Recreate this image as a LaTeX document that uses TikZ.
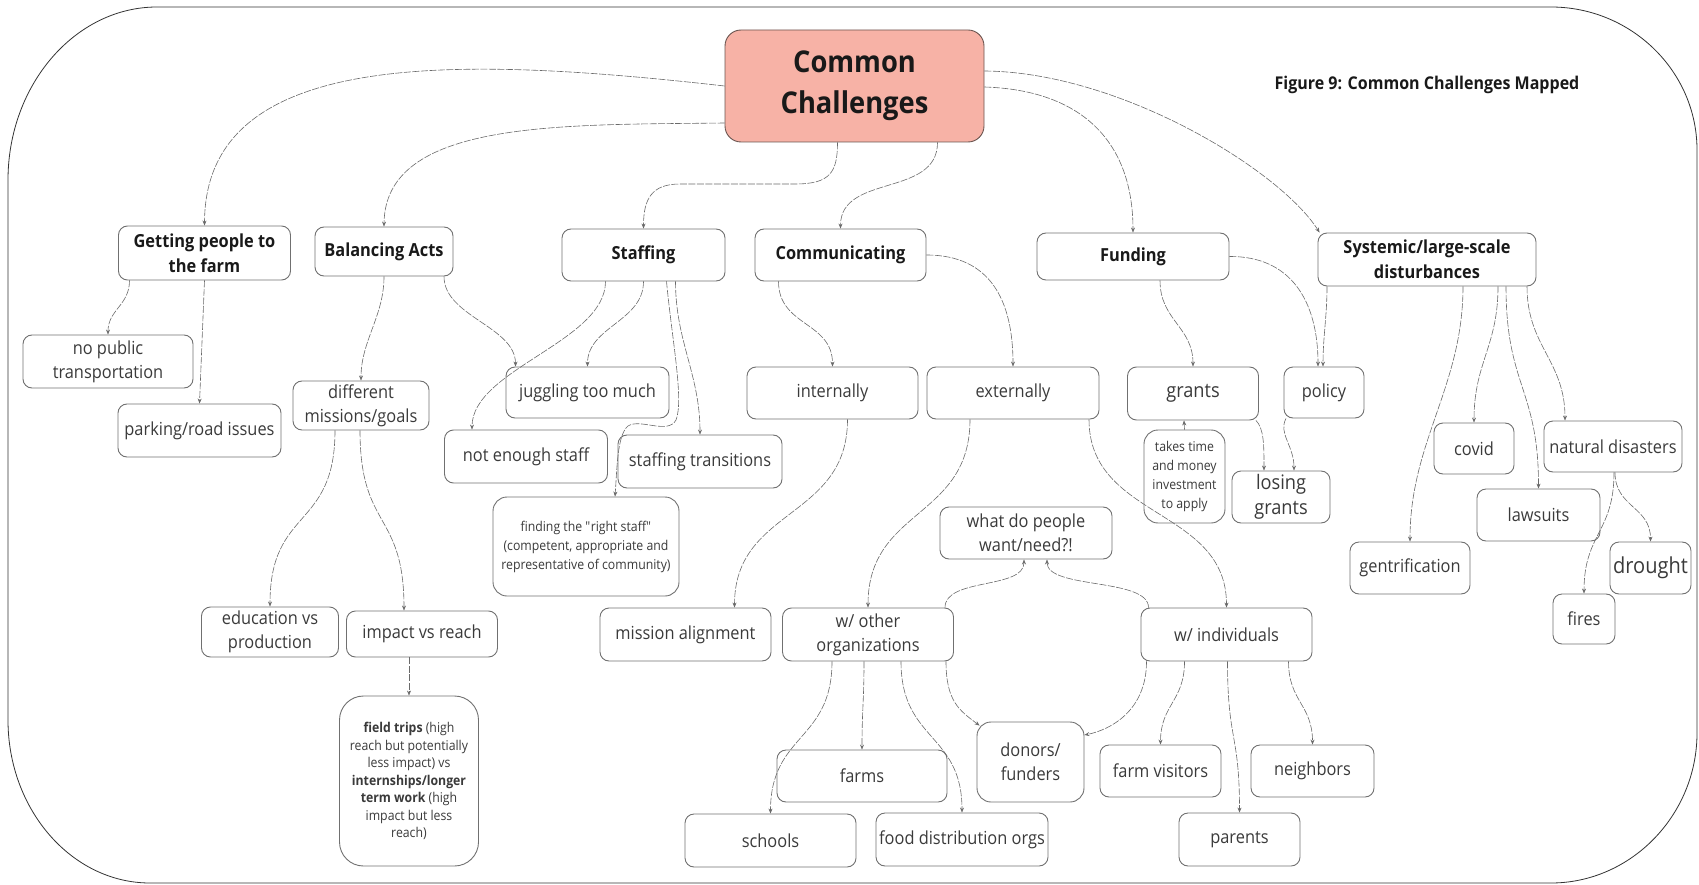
\documentclass[tikz,border=0pt]{standalone}
\usepackage{fontspec}
\setmainfont{Open Sans}[FakeStretch=0.91]
\usetikzlibrary{arrows.meta}
\definecolor{salmon}{HTML}{F7B2A6}
\definecolor{ccedge}{HTML}{6B5550}
\definecolor{edge}{HTML}{707070}
\definecolor{ink}{HTML}{3A3A3A}
\definecolor{linkc}{HTML}{6A6A6A}
\newcommand\fsz[2]{\fontsize{#1}{#2}\selectfont}

\begin{document}
\begin{tikzpicture}[x=1pt,y=-1pt,
  box/.style={draw=edge, line width=0.9pt, rounded corners=9pt, align=center, inner sep=0pt, text=ink, font=\fsz{18}{24}},
  head/.style={box, text=black!90, font=\bfseries\fsz{18}{25}},
  small/.style={box, font=\fsz{13.5}{19}},
  wh/.style 2 args={minimum width=#1pt, minimum height=#2pt},
  link/.style={draw=linkc, line width=0.6pt, dash pattern=on 7pt off 1.5pt, -{Stealth[length=5pt,width=4pt]}},
  frame/.style={draw=black!80, line width=0.8pt}]

\useasboundingbox (0,0) rectangle (1699,885);

% outer frame with wide rounded corners
\draw[frame] (157,7) -- (1551,7) .. controls (1631,7) and (1697,71) .. (1697,150)
  -- (1697,733) .. controls (1697,815) and (1631,883) .. (1551,883)
  -- (150,883) .. controls (72,883) and (8,810) .. (8,720)
  -- (8,180) .. controls (8,85) and (75,7) .. (157,7) -- cycle;

% root and title
\node[box, wh={259}{112}, fill=salmon, draw=ccedge, rounded corners=16pt, text=black!90,
  font=\bfseries\fsz{30}{41}] (cc) at (854.5,86) {Common\\Challenges};
\node[text=black!90, font=\bfseries\fsz{17.6}{20}, inner sep=0pt] (title) at (1427,85) {Figure 9: Common Challenges Mapped};

% main themes
\node[head, wh={172}{54}] (getting) at (204.5,253) {Getting people to\\the farm};
\node[head, wh={138}{49}] (balancing) at (384,251.5) {Balancing Acts};
\node[head, wh={163}{52}] (staffing) at (643.5,255) {Staffing};
\node[head, wh={171}{52}] (comm) at (840.5,255) {Communicating};
\node[head, wh={192}{47}] (funding) at (1133,256.5) {Funding};
\node[head, wh={218}{53}] (systemic) at (1427,259.5) {Systemic/large-scale\\disturbances};

% sub-challenges
\node[box, wh={170}{53}] (nopublic) at (108,361.5) {no public\\transportation};
\node[box, wh={163}{53}] (parking) at (199.5,430.5) {parking/road issues};
\node[box, wh={136}{49}] (diffmiss) at (361,405.5) {different\\missions/goals};
\node[box, wh={163}{51}] (juggling) at (587.5,392.5) {juggling too much};
\node[box, wh={163}{53}] (notenough) at (526,456.5) {not enough staff};
\node[box, wh={164}{53}] (transitions) at (700,461.5) {staffing transitions};
\node[small, wh={186}{99}, rounded corners=14pt] (rightstaff) at (586,546.5) {finding the \textquotedbl right staff\textquotedbl\\(competent, appropriate and\\representative of community)};
\node[box, wh={171}{52}] (internally) at (832.5,393) {internally};
\node[box, wh={172}{52}] (externally) at (1013,393) {externally};
\node[box, wh={131}{53}, font=\fsz{20}{24}] (grants) at (1193,393.5) {grants};
\node[box, wh={80}{51}] (policy) at (1324,392.5) {policy};
\node[small, wh={81}{93}, rounded corners=14pt] (takestime) at (1184.5,476.5) {takes time\\and money\\investment\\to apply};
\node[box, wh={98}{52}, font=\fsz{20}{25}] (losing) at (1281,497) {losing\\grants};
\node[box, wh={80}{51}] (covid) at (1474,448.5) {covid};
\node[box, wh={138}{51}] (natural) at (1613,446.5) {natural disasters};
\node[box, wh={123}{52}] (lawsuits) at (1538.5,515) {lawsuits};
\node[box, wh={120}{52}] (gentrif) at (1410,568) {gentrification};
\node[box, wh={81}{52}, font=\fsz{22}{26}] (drought) at (1650.5,568) {drought};
\node[box, wh={62}{50}] (fires) at (1584,619) {fires};
\node[box, wh={172}{52}] (whatdo) at (1026,533) {what do people\\want/need?!};
\node[box, wh={171}{53}] (wother) at (868,634.5) {w/ other\\organizations};
\node[box, wh={171}{53}] (windiv) at (1226.5,634.5) {w/ individuals};
\node[box, wh={171}{53}] (mission) at (685.5,634.5) {mission alignment};
\node[box, wh={137}{50}] (eduprod) at (270,632) {education vs\\production};
\node[box, wh={151}{46}] (impact) at (422,634) {impact vs reach};
\node[small, wh={139}{170}, rounded corners=24pt, font=\fsz{13.5}{17.5}] (fieldtrips) at (409,781)
  {\textbf{field trips} (high\\reach but potentially\\less impact) vs\\\textbf{internships/longer}\\\textbf{term work} (high\\impact but less\\reach)};
\node[box, wh={170}{52}] (farms) at (862,776) {farms};
\node[box, wh={107}{80}, rounded corners=14pt] (donors) at (1030.5,762) {donors/\\funders};
\node[box, wh={121}{52}] (farmvis) at (1160.5,771) {farm visitors};
\node[box, wh={123}{52}] (neighbors) at (1312.5,771) {neighbors};
\node[box, wh={171}{53}] (schools) at (770.5,840.5) {schools};
\node[box, wh={172}{53}] (fooddist) at (962,839.5) {food distribution orgs};
\node[box, wh={121}{53}] (parents) at (1239.5,839.5) {parents};

% root to themes
\draw[link] (cc.west) .. controls (450,55) and (205,50) .. (getting.north);
\draw[link] ([yshift=-37pt]cc.west) .. controls (560,125) and (385,120) .. (balancing.north);
\draw[link] ([xshift=-17pt]cc.south) .. controls +(0,30) and (830,184) .. (795,184) -- (680,184) .. controls (652,184) and +(0,-30) .. (staffing.north);
\draw[link] ([xshift=83pt]cc.south) .. controls +(0,55) and +(0,-55) .. (comm.north);
\draw[link] ([yshift=15pt]cc.east) .. controls (1120,72) and (1280,170) .. ([xshift=2pt]systemic.north west);
\draw[link] ([yshift=-1pt]cc.east) .. controls (1080,90) and (1133,140) .. (funding.north);

% getting people to the farm
\draw[link] ([xshift=-75pt]getting.south) .. controls +(0,25) and +(0,-25) .. (nopublic.north);
\draw[link] (getting.south) -- (parking.north);

% balancing acts
\draw[link] (balancing.south) .. controls +(0,40) and +(0,-40) .. (diffmiss.north);
\draw[link] ([xshift=60pt]balancing.south) .. controls +(0,40) and +(0,-40) .. ([xshift=-72pt]juggling.north);
\draw[link] ([xshift=-26pt]diffmiss.south) .. controls +(0,100) and +(0,-100) .. (eduprod.north);
\draw[link] ([xshift=-1pt]diffmiss.south) .. controls +(0,100) and +(0,-100) .. ([xshift=-18pt]impact.north);
\draw[link] ([xshift=-13pt]impact.south) -- (fieldtrips.north);

% staffing
\draw[link] ([xshift=-38pt]staffing.south) .. controls +(0,60) and +(0,-60) .. ([xshift=-54pt]notenough.north);
\draw[link] (staffing.south) .. controls +(0,40) and +(0,-40) .. (juggling.north);
\draw[link] ([xshift=23pt]staffing.south) .. controls (672,340) and (684,400) .. (676,420)
  .. controls (668,435) and (640,418) .. (628,426) .. controls (617,435) and (617,470) .. ([xshift=29pt]rightstaff.north);
\draw[link] ([xshift=32pt]staffing.south) .. controls +(0,60) and +(0,-60) .. (transitions.north);

% communicating
\draw[link] ([xshift=-62pt]comm.south) .. controls +(0,45) and +(0,-45) .. (internally.north);
\draw[link] (comm.east) .. controls (990,255) and (1013,300) .. (externally.north);
\draw[link] ([xshift=15pt]internally.south) .. controls +(0,100) and +(0,-100) .. ([xshift=49pt]mission.north);
\draw[link] ([xshift=-43pt]externally.south) .. controls +(0,100) and +(0,-100) .. (wother.north);
\draw[link] ([xshift=76pt]externally.south) .. controls +(0,100) and +(0,-100) .. (windiv.north);
\draw[link] ([xshift=77pt]wother.north) .. controls +(0,-30) and +(0,30) .. ([xshift=-2pt]whatdo.south);
\draw[link] ([xshift=-78pt]windiv.north) .. controls +(0,-30) and +(0,30) .. ([xshift=21pt]whatdo.south);
\draw[link] ([xshift=-36pt]wother.south) .. controls +(0,80) and +(0,-80) .. (schools.north);
\draw[link] ([xshift=-4pt]wother.south) .. controls +(0,40) and +(0,-40) .. (farms.north);
\draw[link] ([xshift=33pt]wother.south) .. controls +(0,80) and +(0,-80) .. (fooddist.north);
\draw[link] ([xshift=78pt]wother.south) .. controls +(0,40) and +(-20,-15) .. ([xshift=3pt,yshift=-4pt]donors.north west);
\draw[link] ([xshift=-80pt]windiv.south) .. controls +(0,50) and +(25,-5) .. ([yshift=27pt]donors.east);
\draw[link] ([xshift=-42pt]windiv.south) .. controls +(0,40) and +(0,-40) .. (farmvis.north);
\draw[link] ([xshift=1pt]windiv.south) .. controls +(0,80) and +(0,-80) .. (parents.north);
\draw[link] ([xshift=62pt]windiv.south) .. controls +(0,40) and +(0,-40) .. (neighbors.north);

% funding
\draw[link] ([xshift=27pt]funding.south) .. controls +(0,40) and +(0,-40) .. (grants.north);
\draw[link] (funding.east) .. controls (1290,256) and (1318,300) .. ([xshift=-6pt]policy.north);
\draw[link] (takestime.north) -- ([xshift=-9pt]grants.south);
\draw[link] ([xshift=-3pt]grants.south east) .. controls +(8,8) and +(0,-25) .. ([xshift=-17pt]losing.north);
\draw[link] ([xshift=-38pt]policy.south) .. controls +(-8,15) and +(0,-25) .. ([xshift=13pt]losing.north);

% systemic disturbances
\draw[link] ([xshift=-100pt]systemic.south) .. controls +(0,30) and +(0,-30) .. ([xshift=-1pt]policy.north);
\draw[link] ([xshift=36pt]systemic.south) .. controls +(0,100) and +(0,-100) .. (gentrif.north);
\draw[link] ([xshift=71pt]systemic.south) .. controls +(0,60) and +(0,-60) .. (covid.north);
\draw[link] ([xshift=79pt]systemic.south) .. controls +(0,100) and +(0,-100) .. (lawsuits.north);
\draw[link] ([xshift=100pt]systemic.south) .. controls +(0,60) and +(0,-60) .. ([xshift=-48pt]natural.north);
\draw[link] ([xshift=1pt]natural.south) .. controls +(0,60) and +(0,-60) .. (fires.north);
\draw[link] ([xshift=2pt]natural.south) .. controls +(0,35) and +(0,-35) .. (drought.north);
\end{tikzpicture}
\end{document}
